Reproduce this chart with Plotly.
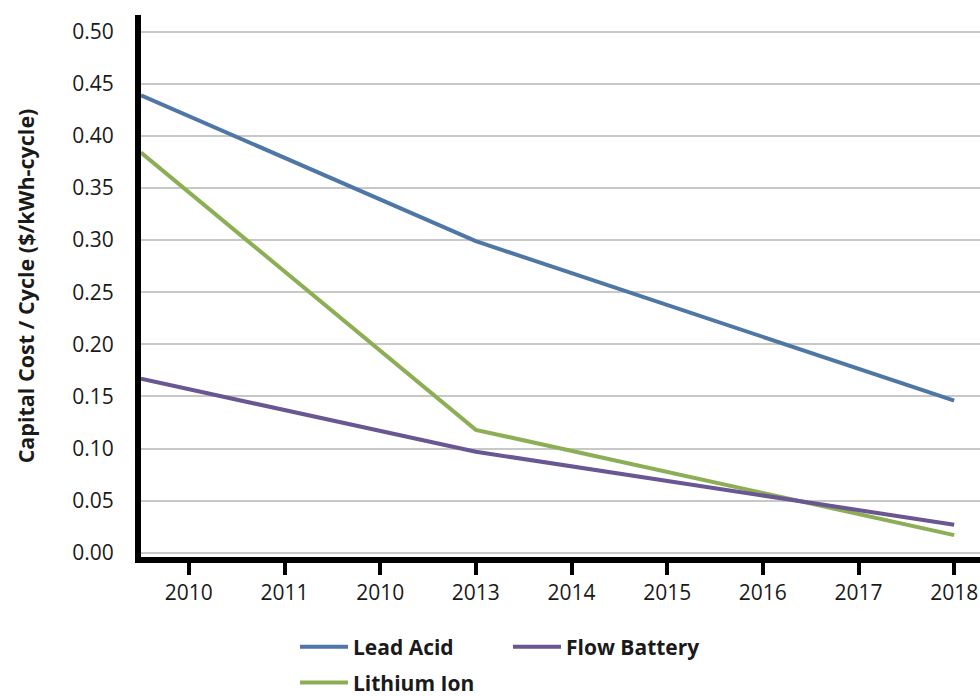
import plotly.graph_objects as go

# Category labels along the x axis (as printed on the chart)
tick_labels = ["2010", "2011", "2010", "2013", "2014", "2015", "2016", "2017", "2018"]

# Knot positions along the category axis (index units) and the values there
knot_pos = [-0.5, 3, 8]
lead_acid = [0.439, 0.299, 0.146]
lithium_ion = [0.384, 0.118, 0.017]
flow_battery = [0.167, 0.097, 0.027]

FONT = "Open Sans"

fig = go.Figure()

fig.add_trace(go.Scatter(
    x=knot_pos, y=lead_acid, mode="lines", name="Lead Acid",
    line=dict(color="#4E76A6", width=4), legend="legend",
))
fig.add_trace(go.Scatter(
    x=knot_pos, y=lithium_ion, mode="lines", name="Lithium Ion",
    line=dict(color="#8CAE55", width=4), legend="legend2",
))
fig.add_trace(go.Scatter(
    x=knot_pos, y=flow_battery, mode="lines", name="Flow Battery",
    line=dict(color="#695692", width=4), legend="legend",
))

legend_common = dict(
    orientation="h", xanchor="left", yanchor="middle",
    xref="container", yref="container",
    font=dict(family=FONT, size=21, color="#1a1a1a", weight="bold"),
    bgcolor="rgba(0,0,0,0)", entrywidth=150, itemwidth=48,
)

fig.update_layout(
    width=980, height=696,
    margin=dict(l=141, r=0, t=15, b=139, autoexpand=False),
    paper_bgcolor="white", plot_bgcolor="white",
    font=dict(family=FONT, color="#1a1a1a"),
    showlegend=True,
    legend=dict(x=0.301, y=0.0704, **legend_common),
    legend2=dict(x=0.301, y=0.0190, **legend_common),
    xaxis=dict(
        range=[-0.5, 8.27],
        tickmode="array", tickvals=list(range(len(tick_labels))), ticktext=tick_labels,
        showgrid=False, zeroline=False,
        showline=True, linecolor="black", linewidth=6,
        ticks="outside", ticklen=12, tickwidth=4, tickcolor="black",
        tickfont=dict(family=FONT, size=21, color="#1a1a1a"),
    ),
    yaxis=dict(
        range=[-0.004, 0.516],
        tickmode="array", tickvals=[i * 0.05 for i in range(11)],
        tickformat=".2f",
        showgrid=True, gridcolor="#c8c8c8", gridwidth=1.5,
        zeroline=False,
        showline=True, linecolor="black", linewidth=6,
        ticks="outside", ticklen=17, tickcolor="rgba(0,0,0,0)",
        tickfont=dict(family=FONT, size=21, color="#1a1a1a"),
        title=dict(text="Capital Cost / Cycle ($/kWh-cycle)",
                   font=dict(family=FONT, size=21.5, color="#1a1a1a", weight="bold"),
                   standoff=34),
    ),
)

fig.write_html("out.html")
